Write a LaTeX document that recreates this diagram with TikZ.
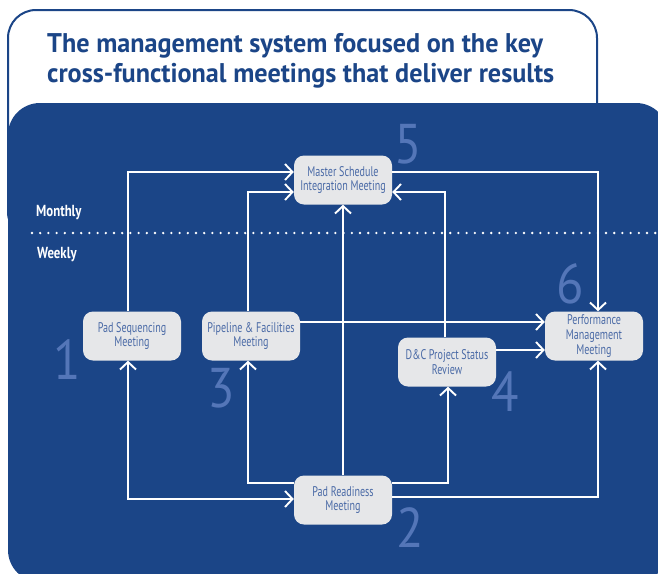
\documentclass[tikz,border=0pt]{standalone}
\usepackage{fontspec}
\setmainfont{PT Sans}
\newfontfamily\titlefont{PT Sans}[FakeStretch=0.97]
\newfontfamily\dinfont{PT Sans}[FakeStretch=0.72]
\newfontfamily\periodfont{PT Sans}[FakeStretch=0.8]
\newfontfamily\numfont{PT Sans}[FakeStretch=0.9]
\usepackage{xcolor}
\usetikzlibrary{arrows.meta}
\definecolor{panelblue}{HTML}{1B4587}
\definecolor{boxgray}{HTML}{E6E7E9}
\definecolor{boxtext}{HTML}{4A6AA6}
\definecolor{stepnum}{HTML}{5476B8}

\begin{document}
\begin{tikzpicture}[
  x=1pt, y=-1pt,
  meeting/.style={fill=boxgray, rounded corners=10pt, minimum width=98pt, minimum height=49pt,
    inner sep=2pt, align=center, text=boxtext, font=\dinfont\fontsize{14}{14.6}\selectfont},
  stepno/.style={text=stepnum, inner sep=0pt, font=\numfont\fontsize{56}{56}\selectfont},
  period/.style={text=white, inner sep=0pt, anchor=west, font=\periodfont\bfseries\fontsize{16}{16}\selectfont},
  headline/.style={text=panelblue, inner sep=0pt, anchor=base west, font=\titlefont\bfseries\fontsize{27}{30}\selectfont},
  flow/.style={draw=white, line width=1.9pt, -{Straight Barb[length=7.5pt,width=16pt]}},
]
  \useasboundingbox (0,0) rectangle (658,573);
  \clip (0,0) rectangle (658,573);

  % Title card and blue panel
  \draw[panelblue, line width=2pt, rounded corners=28pt, fill=white] (8,10) rectangle (597,240);
  \fill[panelblue, rounded corners=32pt] (8,103) rectangle (668,582);

  \node[headline] (title1) at (47,52) {The management system focused on the key};
  \node[headline] (title2) at (47,82) {cross-functional meetings that deliver results};

  % Monthly / weekly split
  \draw[white, line width=2.6pt, line cap=round, dash pattern=on 0pt off 8.2pt] (32,233) -- (658,233);
  \node[period] (monthly) at (36,213) {Monthly};
  \node[period] (weekly) at (37,255) {Weekly};

  % Meetings
  \node[meeting] (master) at (343,180) {Master Schedule\\Integration Meeting};
  \node[meeting] (padseq) at (132,336) {Pad Sequencing\\Meeting};
  \node[meeting] (pipeline) at (251,336) {Pipeline \& Facilities\\Meeting};
  \node[meeting] (dcreview) at (447,362) {D\&C Project Status\\Review};
  \node[meeting] (perf) at (594,336) {Performance\\Management\\Meeting};
  \node[meeting] (padready) at (343,500) {Pad Readiness\\Meeting};

  % Step numbers
  \node[stepno] (n1) at (67,360) {1};
  \node[stepno] (n2) at (410,528) {2};
  \node[stepno] (n3) at (221,388) {3};
  \node[stepno] (n4) at (505,392) {4};
  \node[stepno] (n5) at (408,144) {5};
  \node[stepno] (n6) at (570,284) {6};

  % Into the monthly meeting
  \draw[flow] ([xshift=-4pt]padseq.north) |- ([yshift=8pt]master.west);
  \draw[flow] ([xshift=-3pt]pipeline.north) |- ([yshift=-12pt]master.west);
  \draw[flow] (padready.north) -- (master.south);
  \draw[flow] ([xshift=-2pt]dcreview.north) |- ([yshift=-12pt]master.east);

  % Into performance management
  \draw[flow] ([yshift=8pt]master.east) -| ([xshift=4pt]perf.north);
  \draw[flow] ([yshift=14pt]pipeline.east) -- ([yshift=14pt]pipeline.east -| perf.west);
  \draw[flow] ([yshift=12pt]dcreview.east) -- ([yshift=12pt]dcreview.east -| perf.west);

  % Pad readiness links
  \draw[flow, {Straight Barb[length=7.5pt,width=16pt]}-{Straight Barb[length=7.5pt,width=16pt]}]
    ([xshift=-4pt]padseq.south) |- ([yshift=1pt]padready.west);
  \draw[flow] ([yshift=17pt]padready.west) -| ([xshift=-3pt]pipeline.south);
  \draw[flow] ([yshift=17pt]padready.east) -| ([xshift=1pt]dcreview.south);
  \draw[flow] ([yshift=3pt]padready.east) -| ([xshift=4pt]perf.south);

\end{tikzpicture}
\end{document}
